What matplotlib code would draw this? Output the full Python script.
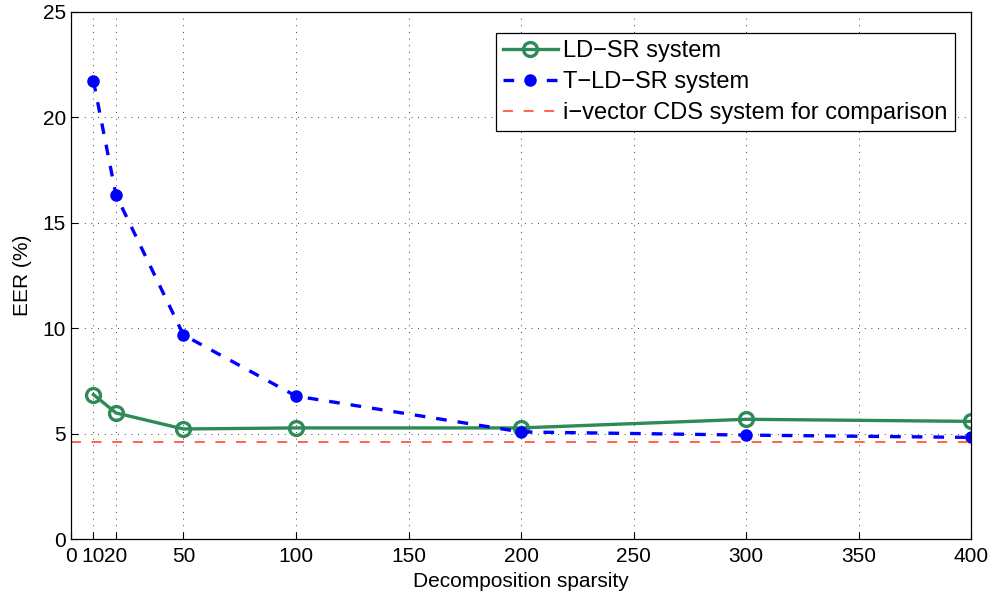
import matplotlib
matplotlib.use("Agg")
import matplotlib.pyplot as plt

plt.rcParams['font.family'] = ['Liberation Sans', 'DejaVu Sans']

# data
sparsity = [10, 20, 50, 100, 200, 300, 400]
ld_sr = [6.85, 5.98, 5.22, 5.27, 5.27, 5.68, 5.58]
t_ld_sr = [21.73, 16.32, 9.68, 6.78, 5.08, 4.93, 4.82]
cds_eer = 4.6

xticks = [0, 10, 20, 50, 100, 150, 200, 250, 300, 350, 400]
xticklabels = ['0', '10', '20', '50', '100', '150', '200', '250', '300', '350', '400']
yticks = [0, 5, 10, 15, 20, 25]

fig = plt.figure(figsize=(9.91, 5.96), dpi=100)
ax = fig.add_axes([0.0716, 0.0956, 0.9083, 0.8843])

ax.plot(sparsity, ld_sr, '-o', color='#2e8b57', lw=2.4, ms=10,
        mfc='none', mew=2.4, label='LD\u2212SR system')
ax.plot(sparsity, t_ld_sr, '--o', color='#0000ff', lw=2.4, ms=8,
        mfc='#0000ff', dashes=(3.2, 3.3), label='T\u2212LD\u2212SR system')
ax.axhline(cds_eer, color='#ff3b1a', lw=1.1, dashes=(6.5, 7),
           label='i\u2212vector CDS system for comparison')

ax.set_xlim(0, 400)
ax.set_ylim(0, 25)
ax.set_xticks(xticks)
ax.set_xticklabels(xticklabels)
ax.set_yticks(yticks)
ax.tick_params(direction='in', labelsize=15, length=5, width=0.8)
ax.tick_params(axis='x', pad=6)
ax.grid(True, color='black', linestyle=(0, (1, 7)), lw=0.6)
for s in ax.spines.values():
    s.set_linewidth(0.9)

ax.set_xlabel('Decomposition sparsity', fontsize=15, labelpad=4)
ax.set_ylabel('EER (%)', fontsize=15, labelpad=8)

leg = ax.legend(loc='upper right', fontsize=17, fancybox=False,
                framealpha=1, edgecolor='black', handlelength=2.3,
                borderpad=0.3, labelspacing=0.38, handletextpad=0.25,
                borderaxespad=0, bbox_to_anchor=(0.982, 0.96))
leg.get_frame().set_linewidth(0.9)

fig.savefig('out.png', dpi=100)
